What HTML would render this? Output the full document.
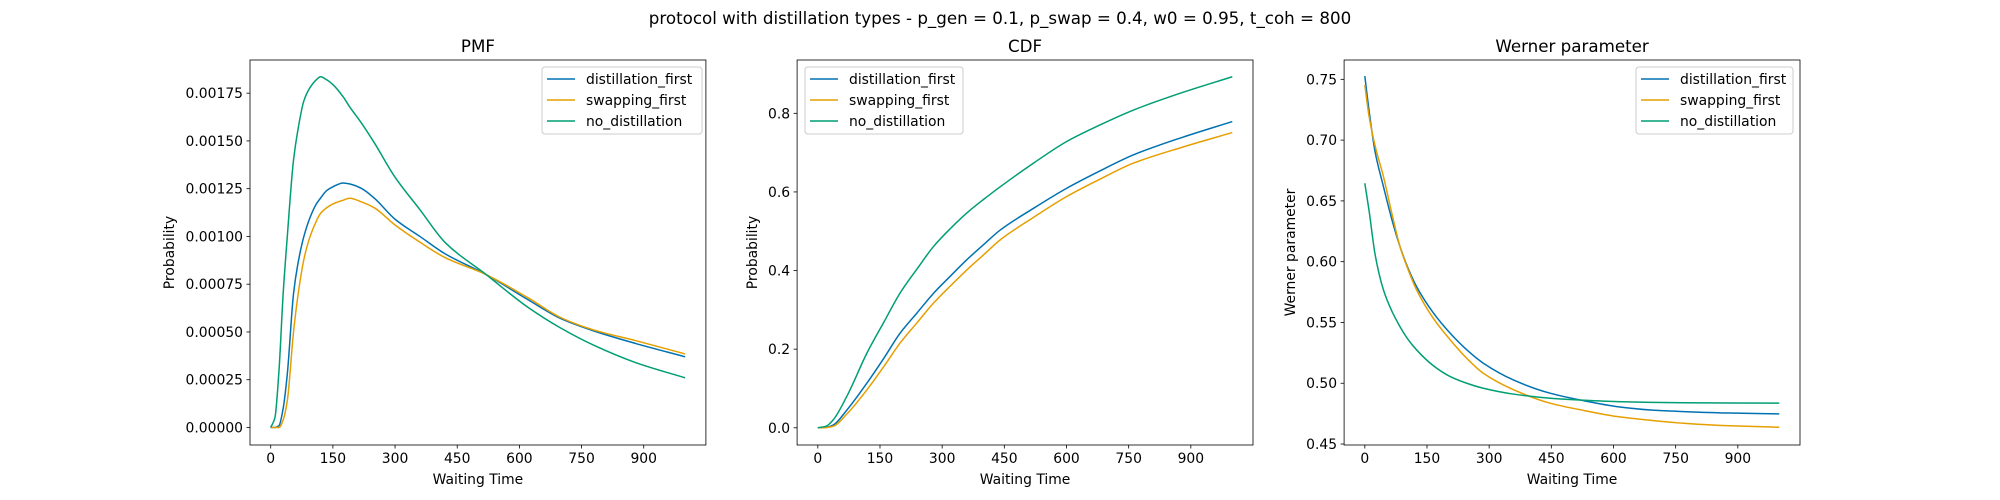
<!DOCTYPE html>
<html><head><meta charset="utf-8"><style>
html,body{margin:0;padding:0;background:#fff;}
svg{display:block;font-family:"DejaVu Sans","Liberation Sans",sans-serif;}
</style></head><body>
<svg id="fig" width="2000" height="500" viewBox="0 0 2000 500" xmlns="http://www.w3.org/2000/svg">
<rect width="2000" height="500" fill="#fff"/>
<text x="1000" y="24" text-anchor="middle" font-size="16.7" fill="#000">protocol with distillation types - p_gen = 0.1, p_swap = 0.4, w0 = 0.95, t_coh = 800</text>
</svg>
<script>
// ---- data ----
const seriesNames = ["distillation_first","swapping_first","no_distillation"];
const seriesColors = ["#0072b2","#e69f00","#009e73"];
const pmfTimes = [0,10,20,30,40,55,65,80,95,110,120,135,150,175,190,220,250,300,360,420,520,620,700,780,880,1000];
const pmfDistFirst = [0,0,0.00001,0.0001,0.00028,0.0007,0.00085,0.001,0.0011,0.00117,0.0012,0.00124,0.00126,0.00128,0.001275,0.00125,0.0012,0.00109,0.001,0.00091,0.0008,0.00067,0.00057,0.000505,0.00044,0.00037];
const pmfSwapFirst = [0,0,0,0.00004,0.00014,0.0005,0.00068,0.00088,0.001,0.00108,0.00112,0.00115,0.00117,0.00119,0.0012,0.00118,0.00115,0.00106,0.00097,0.00089,0.0008,0.00068,0.000575,0.00051,0.000455,0.000385];
const pmfNoDist = [0,0.00005,0.0003,0.0007,0.001,0.0014,0.00155,0.00171,0.00178,0.00182,0.001836,0.00182,0.001795,0.00173,0.00168,0.00159,0.00149,0.00131,0.00114,0.00097,0.0008,0.00063,0.00052,0.00043,0.00034,0.00026];
const cdfTimes = [0,20,37,70,118,160,198,240,279,320,359,400,440,520,600,680,761,880,1000];
const cdfDistFirst = [0,0.001,0.007,0.045,0.113,0.178,0.24,0.293,0.342,0.386,0.427,0.466,0.503,0.558,0.609,0.653,0.694,0.739,0.779];
const cdfSwapFirst = [0,0.0005,0.004,0.035,0.096,0.157,0.215,0.268,0.317,0.361,0.401,0.440,0.478,0.535,0.588,0.632,0.673,0.714,0.751];
const cdfNoDist = [0,0.004,0.02,0.08,0.189,0.27,0.342,0.405,0.461,0.507,0.546,0.581,0.613,0.673,0.728,0.77,0.808,0.853,0.893];
const wTimes = [0,10,25,45,65,85,105,125,165,206,246,286,360,447,530,608,690,769,880,1000];
const wDistFirst = [0.7527,0.7248,0.69,0.6617,0.635,0.6123,0.594,0.5794,0.558,0.5411,0.5275,0.5165,0.5025,0.4918,0.4855,0.4808,0.478,0.4767,0.4755,0.4748];
const wSwapFirst = [0.7453,0.72,0.695,0.6699,0.64,0.6123,0.593,0.5767,0.5535,0.5357,0.5205,0.5082,0.4945,0.4836,0.4775,0.4726,0.4695,0.4671,0.465,0.4638];
const wNoDist = [0.6645,0.6425,0.6055,0.5767,0.5595,0.5465,0.5357,0.5274,0.5145,0.5055,0.5,0.4959,0.491,0.4877,0.486,0.4849,0.4843,0.484,0.4838,0.4836];
const xTicks = [0,150,300,450,600,750,900];
const pmfYTicks = [0,0.00025,0.0005,0.00075,0.001,0.00125,0.0015,0.00175];
const pmfYLabels = ["0.00000","0.00025","0.00050","0.00075","0.00100","0.00125","0.00150","0.00175"];
const cdfYTicks = [0,0.2,0.4,0.6,0.8];
const cdfYLabels = ["0.0","0.2","0.4","0.6","0.8"];
const wYTicks = [0.45,0.5,0.55,0.6,0.65,0.7,0.75];
const wYLabels = ["0.45","0.50","0.55","0.60","0.65","0.70","0.75"];

const NS="http://www.w3.org/2000/svg";
const svg=document.getElementById('fig');
function mk(tag,attrs,parent){const e=document.createElementNS(NS,tag);for(const k in attrs)e.setAttribute(k,attrs[k]);(parent||svg).appendChild(e);return e;}

function monoPath(pts){
  const n=pts.length,dx=[],m=[],t=[];
  for(let i=0;i<n-1;i++){dx[i]=pts[i+1][0]-pts[i][0];m[i]=(pts[i+1][1]-pts[i][1])/dx[i];}
  t[0]=m[0];t[n-1]=m[n-2];
  for(let i=1;i<n-1;i++){
    if(m[i-1]*m[i]<=0)t[i]=0;
    else{const w1=2*dx[i]+dx[i-1],w2=dx[i]+2*dx[i-1];t[i]=(w1+w2)/(w1/m[i-1]+w2/m[i]);}
  }
  let d="M"+pts[0][0].toFixed(2)+","+pts[0][1].toFixed(2);
  for(let i=0;i<n-1;i++){
    const h=dx[i]/3;
    d+=" C"+(pts[i][0]+h).toFixed(2)+","+(pts[i][1]+t[i]*h).toFixed(2)+" "+(pts[i+1][0]-h).toFixed(2)+","+(pts[i+1][1]-t[i+1]*h).toFixed(2)+" "+pts[i+1][0].toFixed(2)+","+pts[i+1][1].toFixed(2);
  }
  return d;
}

function panel(o){
  const L=o.left,R=o.left+455.9,T=60,B=445;
  const g=mk('g',{});
  
  
  const xmin=-50,xmax=1050;
  const X=v=>L+(v-xmin)/(xmax-xmin)*(R-L);
  const Y=v=>B-(v-o.ymin)/(o.ymax-o.ymin)*(B-T);
  const cp=mk('clipPath',{id:'clip'+o.name},g);
  mk('rect',{x:L,y:T,width:R-L,height:B-T},cp);
  o.series.forEach((vals,si)=>{
    const pts=o.times.map((t,i)=>[X(t),Y(vals[i])]);
    const p=mk('path',{d:monoPath(pts),fill:'none',stroke:seriesColors[si],'stroke-width':1.5,'clip-path':'url(#clip'+o.name+')'},g);
    
    
  });
  const fr=mk('rect',{x:L,y:T,width:R-L,height:B-T,fill:'none',stroke:'#000','stroke-width':0.8},g);
  
  
  xTicks.forEach(t=>{
    const x=X(t);
    mk('line',{x1:x,y1:B,x2:x,y2:B+3.5,stroke:'#000','stroke-width':0.8},g);
    const tx=mk('text',{x:x,y:B+18,'text-anchor':'middle','font-size':13.9},g);
    tx.textContent=t;
    
    
  });
  o.yTicks.forEach((v,i)=>{
    const y=Y(v);
    mk('line',{x1:L-3.5,y1:y,x2:L,y2:y,stroke:'#000','stroke-width':0.8},g);
    const tx=mk('text',{x:L-7,y:y+5,'text-anchor':'end','font-size':13.9},g);
    tx.textContent=o.yLabels[i];
    
    
  });
  const xl=mk('text',{x:(L+R)/2,y:484,'text-anchor':'middle','font-size':13.9},g);
  xl.textContent='Waiting Time';
  
  
  const yl=mk('text',{x:0,y:0,'text-anchor':'middle','font-size':13.9,transform:'translate('+(o.ylabX+5)+','+((T+B)/2)+') rotate(-90)'},g);
  yl.textContent=o.ylabel;
  
  
  const ti=mk('text',{x:(L+R)/2,y:52,'text-anchor':'middle','font-size':16.7},g);
  ti.textContent=o.title;
  
  
  const lg=mk('g',{},g);
  
  
  mk('rect',{x:o.legX,y:67,width:o.legW,height:67,rx:3,fill:'#fff','fill-opacity':0.8,stroke:'#ccc','stroke-width':1},lg);
  seriesNames.forEach((n,i)=>{
    const y=79+i*21;
    mk('line',{x1:o.legX+5,y1:y,x2:o.legX+33,y2:y,stroke:seriesColors[i],'stroke-width':1.5},lg);
    const t=mk('text',{x:o.legX+44,y:y+5,'font-size':13.9},lg);
    t.textContent=n;
    
    
  });
}
panel({name:'pmf-panel',title:'PMF',ylabel:'Probability',left:250,ymin:-0.0000917,ymax:0.0019236,times:pmfTimes,series:[pmfDistFirst,pmfSwapFirst,pmfNoDist],yTicks:pmfYTicks,yLabels:pmfYLabels,ylabX:169,legX:542,legW:160});
panel({name:'cdf-panel',title:'CDF',ylabel:'Probability',left:797.1,ymin:-0.0438,ymax:0.9356,times:cdfTimes,series:[cdfDistFirst,cdfSwapFirst,cdfNoDist],yTicks:cdfYTicks,yLabels:cdfYLabels,ylabX:752,legX:805,legW:158});
panel({name:'werner-panel',title:'Werner parameter',ylabel:'Werner parameter',left:1344.1,ymin:0.4492,ymax:0.7659,times:wTimes,series:[wDistFirst,wSwapFirst,wNoDist],yTicks:wYTicks,yLabels:wYLabels,ylabX:1290,legX:1636,legW:157});
</script>
</body></html>
